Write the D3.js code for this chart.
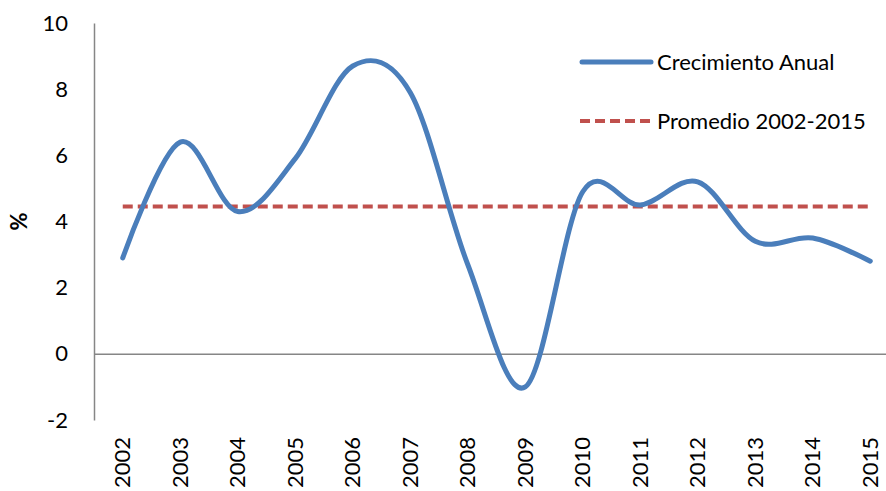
<!DOCTYPE html>
<html>
<head>
<meta charset="utf-8">
<script src="https://cdn.jsdelivr.net/npm/d3@7"></script>
<style>
  html, body { margin: 0; padding: 0; background: #ffffff; }
  svg { display: block; font-family: Lato, "Open Sans", sans-serif; }
</style>
</head>
<body>
<svg id="chart" width="886" height="491"></svg>
<script>
// ---- data ----
const years = ["2002","2003","2004","2005","2006","2007","2008","2009","2010","2011","2012","2013","2014","2015"];
const growth = [2.9, 6.4, 4.3, 5.9, 8.7, 7.9, 2.7, -1.0, 4.9, 4.5, 5.2, 3.4, 3.5, 2.8];
const average = [4.45];
const yTicks = [-2, 0, 2, 4, 6, 8, 10];
const seriesNames = ["Crecimiento Anual", "Promedio 2002-2015"];
const yTitle = "%";

// ---- layout ----
const W = 886, H = 491;
const plotLeft = 94, band = 57.5;
const plotTop = 23, plotBottom = 420;
const blue = "#4A7EBB", red = "#C0504D", axisGrey = "#868686";

const svg = d3.select("#chart");

const x = d3.scaleBand().domain(years).range([plotLeft, plotLeft + band * years.length]).padding(0);
const xc = d => x(d) + x.bandwidth() / 2;
const y = d3.scaleLinear().domain([-2, 10]).range([plotBottom, plotTop]);

// y axis
const yAxis = svg.append("g")
  .attr("transform", `translate(${plotLeft},0)`)
  .call(d3.axisLeft(y).tickValues(yTicks).tickSize(0).tickPadding(26).tickFormat(d => String(d)));
yAxis.select(".domain").attr("stroke", axisGrey).attr("stroke-width", 1.5);
yAxis.selectAll("text")
  .attr("font-family", "Lato, 'Open Sans', sans-serif")
  .attr("font-size", 22)
  .attr("fill", "#000");

// x axis line at zero
const xAxis = svg.append("g")
  .attr("transform", `translate(0,${y(0)})`)
  .call(d3.axisBottom(x).tickSize(0).tickFormat(""));
xAxis.select(".domain").attr("stroke", axisGrey).attr("stroke-width", 1.5);

// x labels at bottom, rotated
svg.append("g").selectAll("text")
  .data(years)
  .join("text")
  .attr("transform", d => `translate(${xc(d)},437) rotate(-90)`)
  .attr("text-anchor", "end")
  .attr("dy", "0.35em")
  .attr("font-size", 22)
  .attr("fill", "#000")
  .text(d => d);

// y title
svg.append("text")
  .attr("transform", `translate(19,${(plotTop + plotBottom) / 2}) rotate(-90)`)
  .attr("text-anchor", "middle")
  .attr("dy", "0.35em")
  .attr("font-size", 22)
  .attr("font-weight", "bold")
  .attr("fill", "#000")
  .text(yTitle);

// average line
svg.append("line")
  .attr("x1", xc(years[0]))
  .attr("x2", xc(years[years.length - 1]))
  .attr("y1", y(average[0]))
  .attr("y2", y(average[0]))
  .attr("stroke", red)
  .attr("stroke-width", 4)
  .attr("stroke-dasharray", "10,5");

// growth line
const line = d3.line()
  .x((d, i) => xc(years[i]))
  .y(d => y(d))
  .curve(d3.curveCardinal.tension(0));
svg.append("path")
  .datum(growth)
  .attr("d", line)
  .attr("fill", "none")
  .attr("stroke", blue)
  .attr("stroke-width", 5)
  .attr("stroke-linecap", "round")
  .attr("stroke-linejoin", "round");

// legend
const leg = svg.append("g");
const legY = [62, 121];
leg.append("line").attr("x1", 582).attr("x2", 651).attr("y1", legY[0]).attr("y2", legY[0])
  .attr("stroke", blue).attr("stroke-width", 5).attr("stroke-linecap", "round");
leg.append("line").attr("x1", 580).attr("x2", 652).attr("y1", legY[1]).attr("y2", legY[1])
  .attr("stroke", red).attr("stroke-width", 4).attr("stroke-dasharray", "10,5");
leg.selectAll("text")
  .data(seriesNames)
  .join("text")
  .attr("x", 657)
  .attr("y", (d, i) => legY[i])
  .attr("dy", "0.35em")
  .attr("font-size", 22)
  .attr("fill", "#000")
  .text(d => d);
</script>
</body>
</html>
